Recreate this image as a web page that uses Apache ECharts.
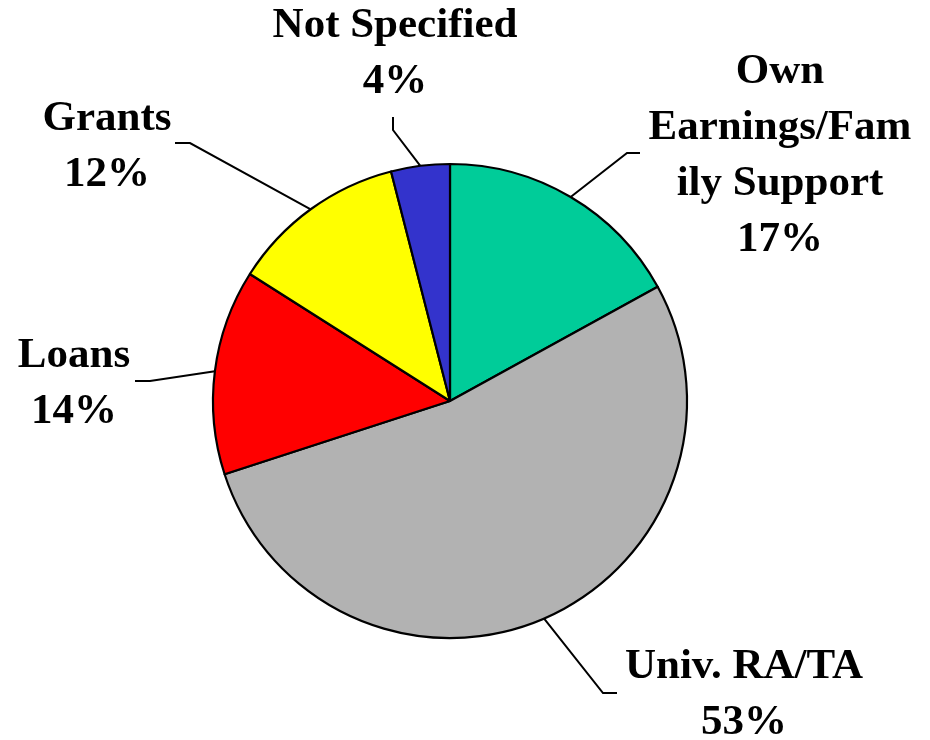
<!DOCTYPE html>
<html>
<head>
<meta charset="utf-8">
<script src="https://cdn.jsdelivr.net/npm/echarts@6/dist/echarts.min.js"></script>
<style>
  html, body { margin: 0; padding: 0; background: #fff; }
  #chart { width: 930px; height: 740px; }
</style>
</head>
<body>
<div id="chart"></div>
<script>
// data, clockwise from 12 o'clock
const categories = ['Own\nEarnings/Fam\nily Support', 'Univ. RA/TA', 'Loans', 'Grants', 'Not Specified'];
const shares = [17, 53, 14, 12, 4];
const colors = ['#00CC99', '#B2B2B2', '#FF0000', '#FFFF00', '#3333CC'];

// where each label block sits (center x, center y) and its leader line bend/end
const labelSpots = [
  { x: 780, y: 156, bend: [627, 153], end: [640, 153] },
  { x: 744, y: 695, bend: [603, 693], end: [617, 693] },
  { x: 74,  y: 384, bend: [150, 381], end: [135, 381] },
  { x: 107, y: 147, bend: [190, 143], end: [175, 143] },
  { x: 395, y: 54,  bend: [393, 130], end: [393, 117] }
];

const chart = echarts.init(document.getElementById('chart'));

chart.setOption({
  animation: false,
  color: colors,
  series: [{
    type: 'pie',
    center: [450, 401],
    radius: 237,
    startAngle: 90,
    clockwise: true,
    avoidLabelOverlap: false,
    itemStyle: { borderColor: '#000', borderWidth: 2.2 },
    label: {
      show: true,
      position: 'outside',
      formatter: '{b}\n{d}%',
      fontFamily: 'Liberation Serif',
      fontWeight: 'bold',
      fontSize: 43,
      lineHeight: 56,
      color: '#000',
      align: 'center'
    },
    labelLine: {
      show: true,
      length: 20,
      length2: 10,
      lineStyle: { color: '#000', width: 2 }
    },
    labelLayout: function (params) {
      const s = labelSpots[params.dataIndex];
      const start = params.labelLinePoints ? params.labelLinePoints[0] : s.bend;
      return {
        x: s.x,
        y: s.y,
        align: 'center',
        verticalAlign: 'middle',
        labelLinePoints: [start, s.bend, s.end]
      };
    },
    data: categories.map((name, i) => ({ name: name, value: shares[i] }))
  }]
});
</script>
</body>
</html>
